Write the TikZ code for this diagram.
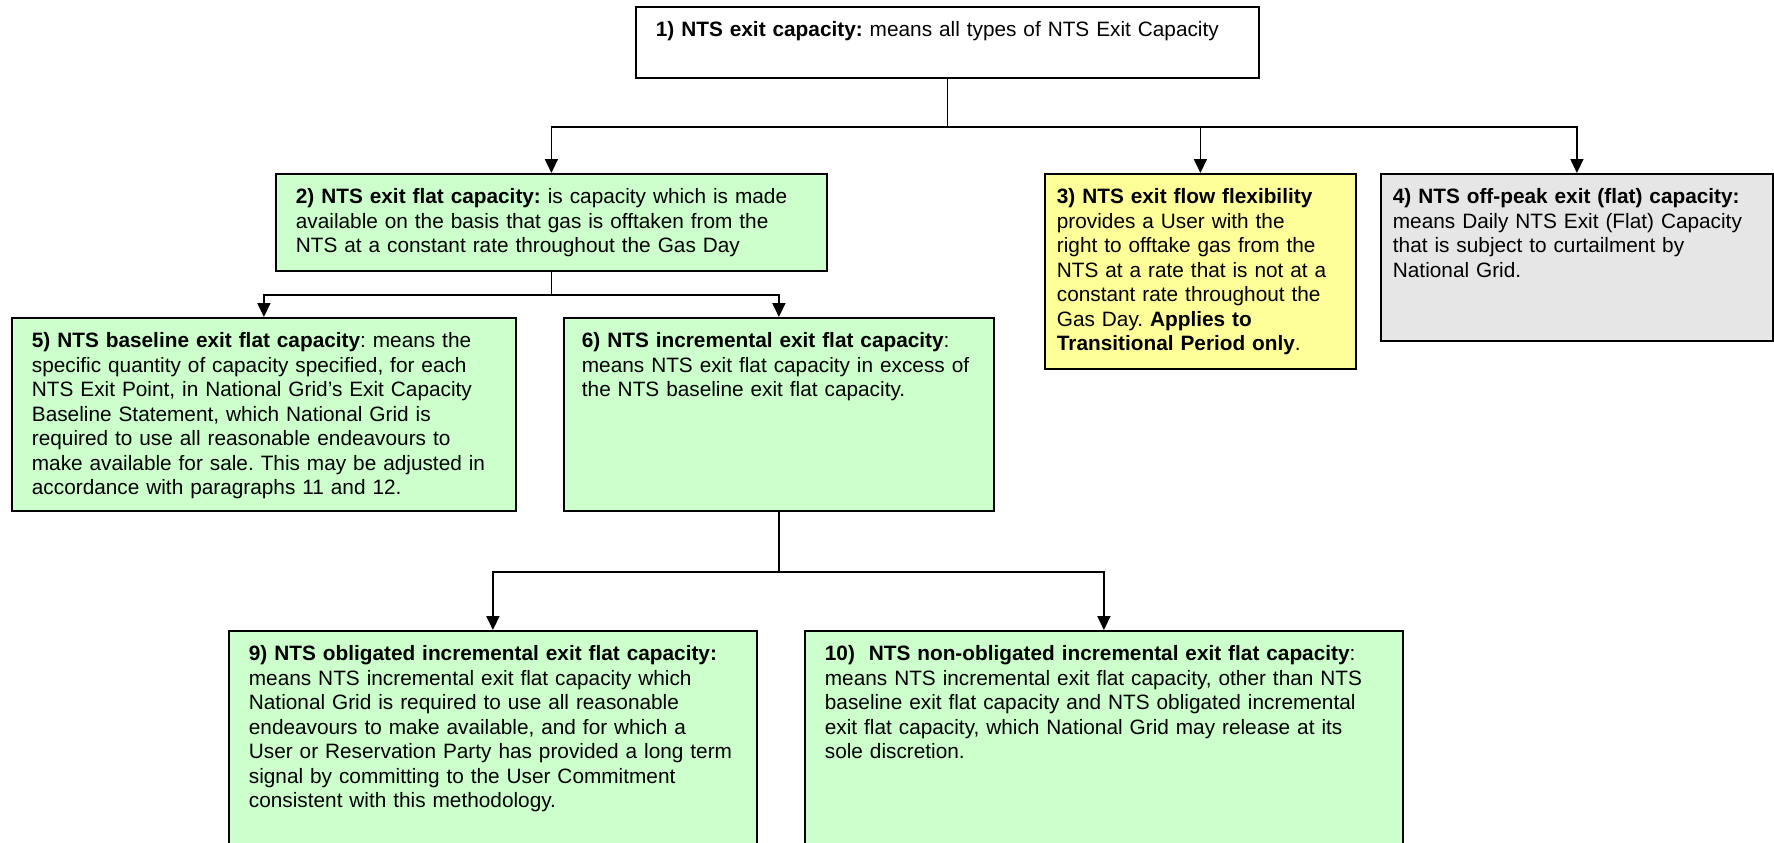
\documentclass[tikz,border=0pt]{standalone}
\usepackage{fontspec}
\setmainfont{Liberation Sans}
\usetikzlibrary{positioning,arrows.meta}
\definecolor{boxgreen}{HTML}{CCFFCC}
\definecolor{boxyellow}{HTML}{FFFF99}
\definecolor{boxgrey}{HTML}{E6E6E6}

\begin{document}
\begin{tikzpicture}[x=0.5pt,y=-0.5pt,
    defbox/.style={draw, line width=0.9pt, anchor=north west, align=left,
        inner xsep=10pt, inner ysep=7pt, text height=8pt,
        font=\fontsize{10.4pt}{12.25pt}\selectfont\frenchspacing},
    link/.style={line width=0.9pt},
    arr/.style={link, -{Triangle[length=7pt,width=6.5pt]}}]
    \useasboundingbox (0,0) rectangle (1774,842);
    \clip (0,0) rectangle (1774,842);
        \node[defbox, fill=white, text width=291.5pt, text depth=13.5pt] (N1) at (635,6)
            {\textbf{1) NTS exit capacity:} means all types of NTS Exit Capacity};
        \node[defbox, fill=boxgreen, text width=255.5pt, text depth=26.5pt] (N2) at (275,173)
            {\textbf{2) NTS exit flat capacity:} is capacity which is made\\
             available on the basis that gas is offtaken from the\\
             NTS at a constant rate throughout the Gas Day};
        \node[defbox, fill=boxyellow, inner xsep=6pt, text width=143.5pt, text depth=75.5pt] (N3) at (1044,173)
            {\textbf{3) NTS exit flow flexibility}\\
             provides a User with the\\
             right to offtake gas from the\\
             NTS at a rate that is not at a\\
             constant rate throughout the\\
             Gas Day. \textbf{Applies to}\\
             \textbf{Transitional Period only}.};
        \node[defbox, fill=boxgrey, inner xsep=6pt, text width=184pt, text depth=61.5pt] (N4) at (1380,173)
            {\textbf{4) NTS off-peak exit (flat) capacity:}\\
             means Daily NTS Exit (Flat) Capacity\\
             that is subject to curtailment by\\
             National Grid.};
        \node[defbox, fill=boxgreen, text width=232pt, text depth=74.5pt] (N5) at (11,317)
            {\textbf{5) NTS baseline exit flat capacity}: means the\\
             specific quantity of capacity specified, for each\\
             NTS Exit Point, in National Grid’s Exit Capacity\\
             Baseline Statement, which National Grid is\\
             required to use all reasonable endeavours to\\
             make available for sale. This may be adjusted in\\
             accordance with paragraphs 11 and 12.};
        \node[defbox, fill=boxgreen, inner xsep=9pt, text width=197pt, text depth=74.5pt] (N6) at (563,317)
            {\textbf{6) NTS incremental exit flat capacity}:\\
             means NTS exit flat capacity in excess of\\
             the NTS baseline exit flat capacity.};
        \node[defbox, fill=boxgreen, text width=244pt, text depth=93pt] (N9) at (228,630)
            {\textbf{9) NTS obligated incremental exit flat capacity:}\\
             means NTS incremental exit flat capacity which\\
             National Grid is required to use all reasonable\\
             endeavours to make available, and for which a\\
             User or Reservation Party has provided a long term\\
             signal by committing to the User Commitment\\
             consistent with this methodology.};
        \node[defbox, fill=boxgreen, text width=279pt, text depth=93pt] (N10) at (804,630)
            {\textbf{10)\ \ NTS non-obligated incremental exit flat capacity}:\\
             means NTS incremental exit flat capacity, other than NTS\\
             baseline exit flat capacity and NTS obligated incremental\\
             exit flat capacity, which National Grid may release at its\\
             sole discretion.};
        % junctions
        \coordinate[below=24pt of N1] (J1);
        \coordinate[below=11.5pt of N2] (J2);
        \coordinate[below=30pt of N6] (J3);
        \draw[link] (N1) -- (J1);
        \draw[arr] (J1) -| (N2);
        \draw[arr] (J1) -| (N3);
        \draw[arr] (J1) -| (N4);
        \draw[link] (N2) -- (J2);
        \draw[arr] (J2) -| (N5);
        \draw[arr] (J2) -| (N6);
        \draw[link] (N6) -- (J3);
        \draw[arr] (J3) -| (N9);
        \draw[arr] (J3) -| (N10);
    \end{tikzpicture}
\end{document}
